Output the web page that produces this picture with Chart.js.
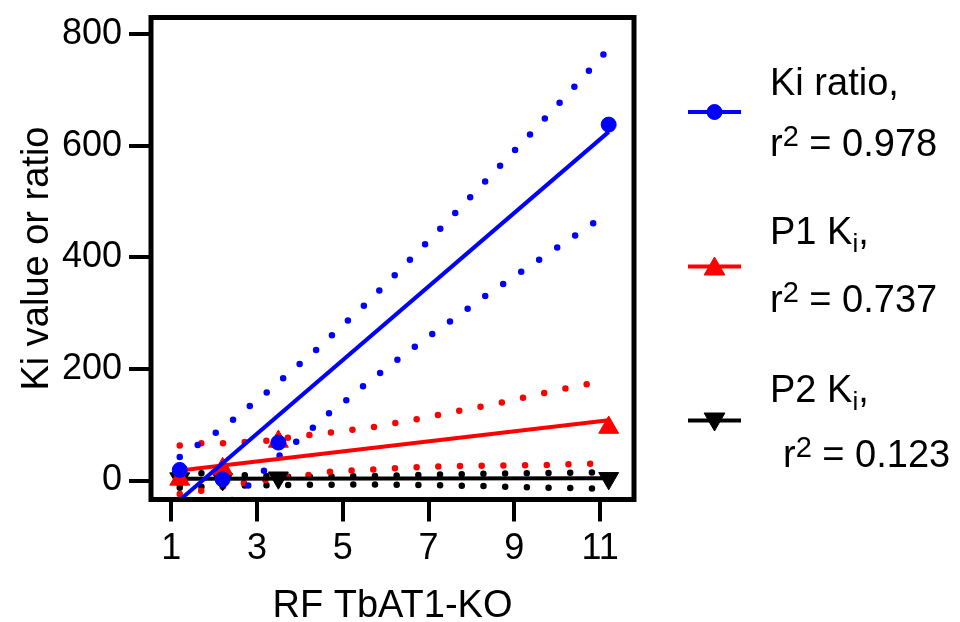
<!DOCTYPE html>
<html><head><meta charset="utf-8">
<script src="https://cdn.jsdelivr.net/npm/chart.js@4.4.1/dist/chart.umd.min.js"></script>
<style>
html,body{margin:0;padding:0;background:#fff;}
#wrap{position:relative;width:960px;height:622px;overflow:hidden;background:#fff;}
canvas{position:absolute;left:0;top:0;}
.lg{position:absolute;font-family:'Liberation Sans',Arial,sans-serif;font-size:38px;line-height:38px;color:#000;white-space:pre;}
.lg sup{font-size:29px;position:relative;top:-10px;vertical-align:baseline;line-height:0;}
.lg sub{font-size:26px;position:relative;top:8px;vertical-align:baseline;line-height:0;}
</style></head>
<body><div id="wrap"><canvas id="c" width="960" height="622"></canvas><div id="legend"></div></div>
<script>
// ---------- data ----------
const xTickLabels = [1, 3, 5, 7, 9, 11];
const yTickLabels = [0, 200, 400, 600, 800];
const rfValues = [1.2, 2.2, 3.5, 11.2];
const kiRatio = [19, 2, 68, 638];
const p1Ki = [2, 21, 70, 95];
const p2Ki = [3.5, 2, 5, 4];
const fitX = [1.2, 11.2];
const kiRatioFit = [-35, 625];
const p1KiFit = [18, 108];
const p2KiFit = [3.3, 4.2];
// confidence bands (dotted)
const kiRatioUpperX = [1.2, 1.68, 2.07, 2.48, 2.87, 3.26, 3.65, 4.03, 4.41, 4.78, 5.53, 6.25, 7.32, 8.37, 9.41, 10.45, 11.15];
const kiRatioUpperY = [42, 67, 87, 111, 136, 160, 186, 211, 236, 263, 316, 371, 455, 540, 624, 710, 770];
const kiRatioLowerX = [2.42, 2.77, 3.14, 3.50, 3.89, 4.28, 4.65, 5.05, 5.44, 5.84, 6.25, 7.0, 7.7, 8.4, 9.14, 9.56, 9.97, 10.39, 10.82, 11.15];
const kiRatioLowerY = [-35, -11, 16, 43, 68, 93, 119, 142, 167, 191, 215, 258, 296, 335, 373, 395, 416, 438, 460, 477];
const p1UpperX = [1.2, 1.72, 2.21, 2.71, 3.21, 3.73, 4.73, 5.73, 6.73, 7.72, 8.72, 9.71, 10.70, 11.15];
const p1UpperY = [63, 67, 67, 69, 71, 77, 86, 96, 110, 125, 140, 157, 173, 180];
const p1LowerX = [1.2, 1.72, 2.21, 2.71, 3.21, 3.73, 4.22, 4.73, 5.24, 5.73, 6.73, 7.73, 8.73, 9.73, 10.78, 11.15];
const p1LowerY = [-24, -18, -11, -4, 1, 7, 10, 16, 18, 20, 24, 26, 27, 28, 30, 30];
const p2UpperX = [1.2, 1.72, 2.5, 3.7, 4.5, 5.3, 6.3, 7.3, 8.3, 9.3, 10.3, 11.15];
const p2UpperY = [15, 13, 10, 7, 7, 7.5, 9, 11, 12, 13, 14, 15];
const p2LowerX = [1.2, 1.72, 2.5, 3.7, 4.5, 5.3, 6.3, 7.3, 8.3, 9.3, 10.3, 11.15];
const p2LowerY = [-13, -11, -9, -8, -7.5, -7, -7.5, -8.5, -10, -12, -13.5, -14.5];
const seriesNames = ['Ki ratio,', 'P1 K<sub>i</sub>,', 'P2 K<sub>i</sub>,'];
const r2Values = ['0.978', '0.737', '0.123'];
const seriesColors = ['#0000ff', '#ff0000', '#000000'];

// ---------- helpers ----------
const pts = (xs, ys) => xs.map((x, i) => ({x: x, y: ys[i]}));
const FONT = "'Liberation Sans', Arial, sans-serif";
Chart.defaults.font.family = FONT;
Chart.defaults.color = '#000';

function markerSet(ys, color, style, radius, rot, order) {
  return {data: pts(rfValues, ys), showLine: false, pointStyle: style, pointRadius: radius,
    pointRotation: rot, pointBackgroundColor: color, pointBorderColor: color, pointBorderWidth: 1,
    backgroundColor: color, borderColor: color, order: order};
}
function fitSet(ys, color, order) {
  return {data: pts(fitX, ys), showLine: true, pointRadius: 0, borderWidth: 4, borderColor: color,
    backgroundColor: color, clip: 0, order: order, tension: 0};
}
function bandSet(xs, ys, color, order) {
  return {data: pts(xs, ys), showLine: true, pointRadius: 0, borderWidth: 6.5, borderColor: color,
    borderDash: [0, 21.7], borderCapStyle: 'round', borderJoinStyle: 'round', clip: 0, order: order, tension: 0};
}

const datasets = [
  markerSet(kiRatio, seriesColors[0], 'circle', 7.5, 0, 0),
  fitSet(kiRatioFit, seriesColors[0], 1),
  markerSet(p1Ki, seriesColors[1], 'triangle', 11.5, 0, 2),
  fitSet(p1KiFit, seriesColors[1], 3),
  markerSet(p2Ki, seriesColors[2], 'triangle', 11.5, 180, 4),
  fitSet(p2KiFit, seriesColors[2], 5),
  bandSet(kiRatioUpperX, kiRatioUpperY, seriesColors[0], 6),
  bandSet(kiRatioLowerX, kiRatioLowerY, seriesColors[0], 7),
  bandSet(p1UpperX, p1UpperY, seriesColors[1], 8),
  bandSet(p1LowerX, p1LowerY, seriesColors[1], 9),
  bandSet(p2UpperX, p2UpperY, seriesColors[2], 10),
  bandSet(p2LowerX, p2LowerY, seriesColors[2], 11)
];

const legendRows = [
  {y: 112, style: 'circle', r: 7.5, rot: 0, my: 112},
  {y: 266.5, style: 'triangle', r: 12, rot: 0, my: 269},
  {y: 420.5, style: 'triangle', r: 12, rot: 180, my: 419}
];

const framePlugin = {
  id: 'frame',
  afterDatasetsDraw(chart) {
    const {ctx, chartArea: a} = chart;
    ctx.save();
    ctx.strokeStyle = '#000';
    ctx.lineWidth = 5;
    ctx.lineJoin = 'miter';
    ctx.strokeRect(a.left, a.top, a.right - a.left, a.bottom - a.top);
    ctx.restore();
  },
  afterDraw(chart) {
    const ctx = chart.ctx;
    legendRows.forEach((row, i) => {
      ctx.save();
      ctx.strokeStyle = seriesColors[i];
      ctx.lineWidth = 4;
      ctx.beginPath();
      ctx.moveTo(688, row.y);
      ctx.lineTo(741, row.y);
      ctx.stroke();
      ctx.fillStyle = seriesColors[i];
      ctx.strokeStyle = seriesColors[i];
      ctx.lineWidth = 1;
      Chart.helpers.drawPoint(ctx, {pointStyle: row.style, radius: row.r, rotation: row.rot, borderWidth: 1}, 714.5, row.my);
      ctx.restore();
    });
  }
};

new Chart(document.getElementById('c'), {
  type: 'scatter',
  data: {datasets: datasets},
  options: {
    responsive: false,
    animation: false,
    devicePixelRatio: 1,
    layout: {padding: {left: 0, top: 17.5, right: 326, bottom: 0}},
    plugins: {legend: {display: false}, tooltip: {enabled: false}},
    elements: {line: {tension: 0}},
    scales: {
      x: {
        type: 'linear', min: 0.53, max: 11.79,
        afterBuildTicks: s => { s.ticks = xTickLabels.map(v => ({value: v})); },
        afterFit: s => { s.height = 122.5; s.paddingLeft = 0; s.paddingRight = 0; },
        ticks: {color: '#000', font: {size: 36, family: FONT}, padding: 6, autoSkip: false, maxRotation: 0},
        grid: {display: true, drawOnChartArea: false, drawTicks: true, tickLength: 22, lineWidth: 4, tickWidth: 4, tickColor: '#000', color: '#000'},
        border: {display: false},
        title: {display: true, text: 'RF TbAT1-KO', color: '#000', font: {size: 38, lineHeight: 1, family: FONT}, padding: {top: 0, bottom: -4}}
      },
      y: {
        type: 'linear', min: -34, max: 830,
        afterBuildTicks: s => { s.ticks = yTickLabels.map(v => ({value: v})); },
        afterFit: s => { s.width = 151; s.paddingTop = 0; s.paddingBottom = 0; },
        ticks: {color: '#000', font: {size: 36, family: FONT}, padding: 7, autoSkip: false},
        grid: {display: true, drawOnChartArea: false, drawTicks: true, tickLength: 22, lineWidth: 4, tickWidth: 4, tickColor: '#000', color: '#000'},
        border: {display: false},
        title: {display: true, text: 'Ki value or ratio', color: '#000', font: {size: 38, lineHeight: 1, family: FONT}, padding: {top: 19, bottom: 0}}
      }
    }
  },
  plugins: [framePlugin]
});

// ---------- legend text ----------
const legendText = document.getElementById('legend');
const nameTops = [63, 212, 369.5];
const r2Tops = [124, 279.5, 434.5];
const r2Lefts = [770, 770, 783];
seriesNames.forEach((name, i) => {
  const a = document.createElement('div');
  a.className = 'lg';
  a.style.left = '770px';
  a.style.top = nameTops[i] + 'px';
  a.innerHTML = name;
  legendText.appendChild(a);
  const b = document.createElement('div');
  b.className = 'lg';
  b.style.left = r2Lefts[i] + 'px';
  b.style.top = r2Tops[i] + 'px';
  b.innerHTML = 'r<sup>2</sup> = ' + r2Values[i];
  legendText.appendChild(b);
});
</script></body></html>
